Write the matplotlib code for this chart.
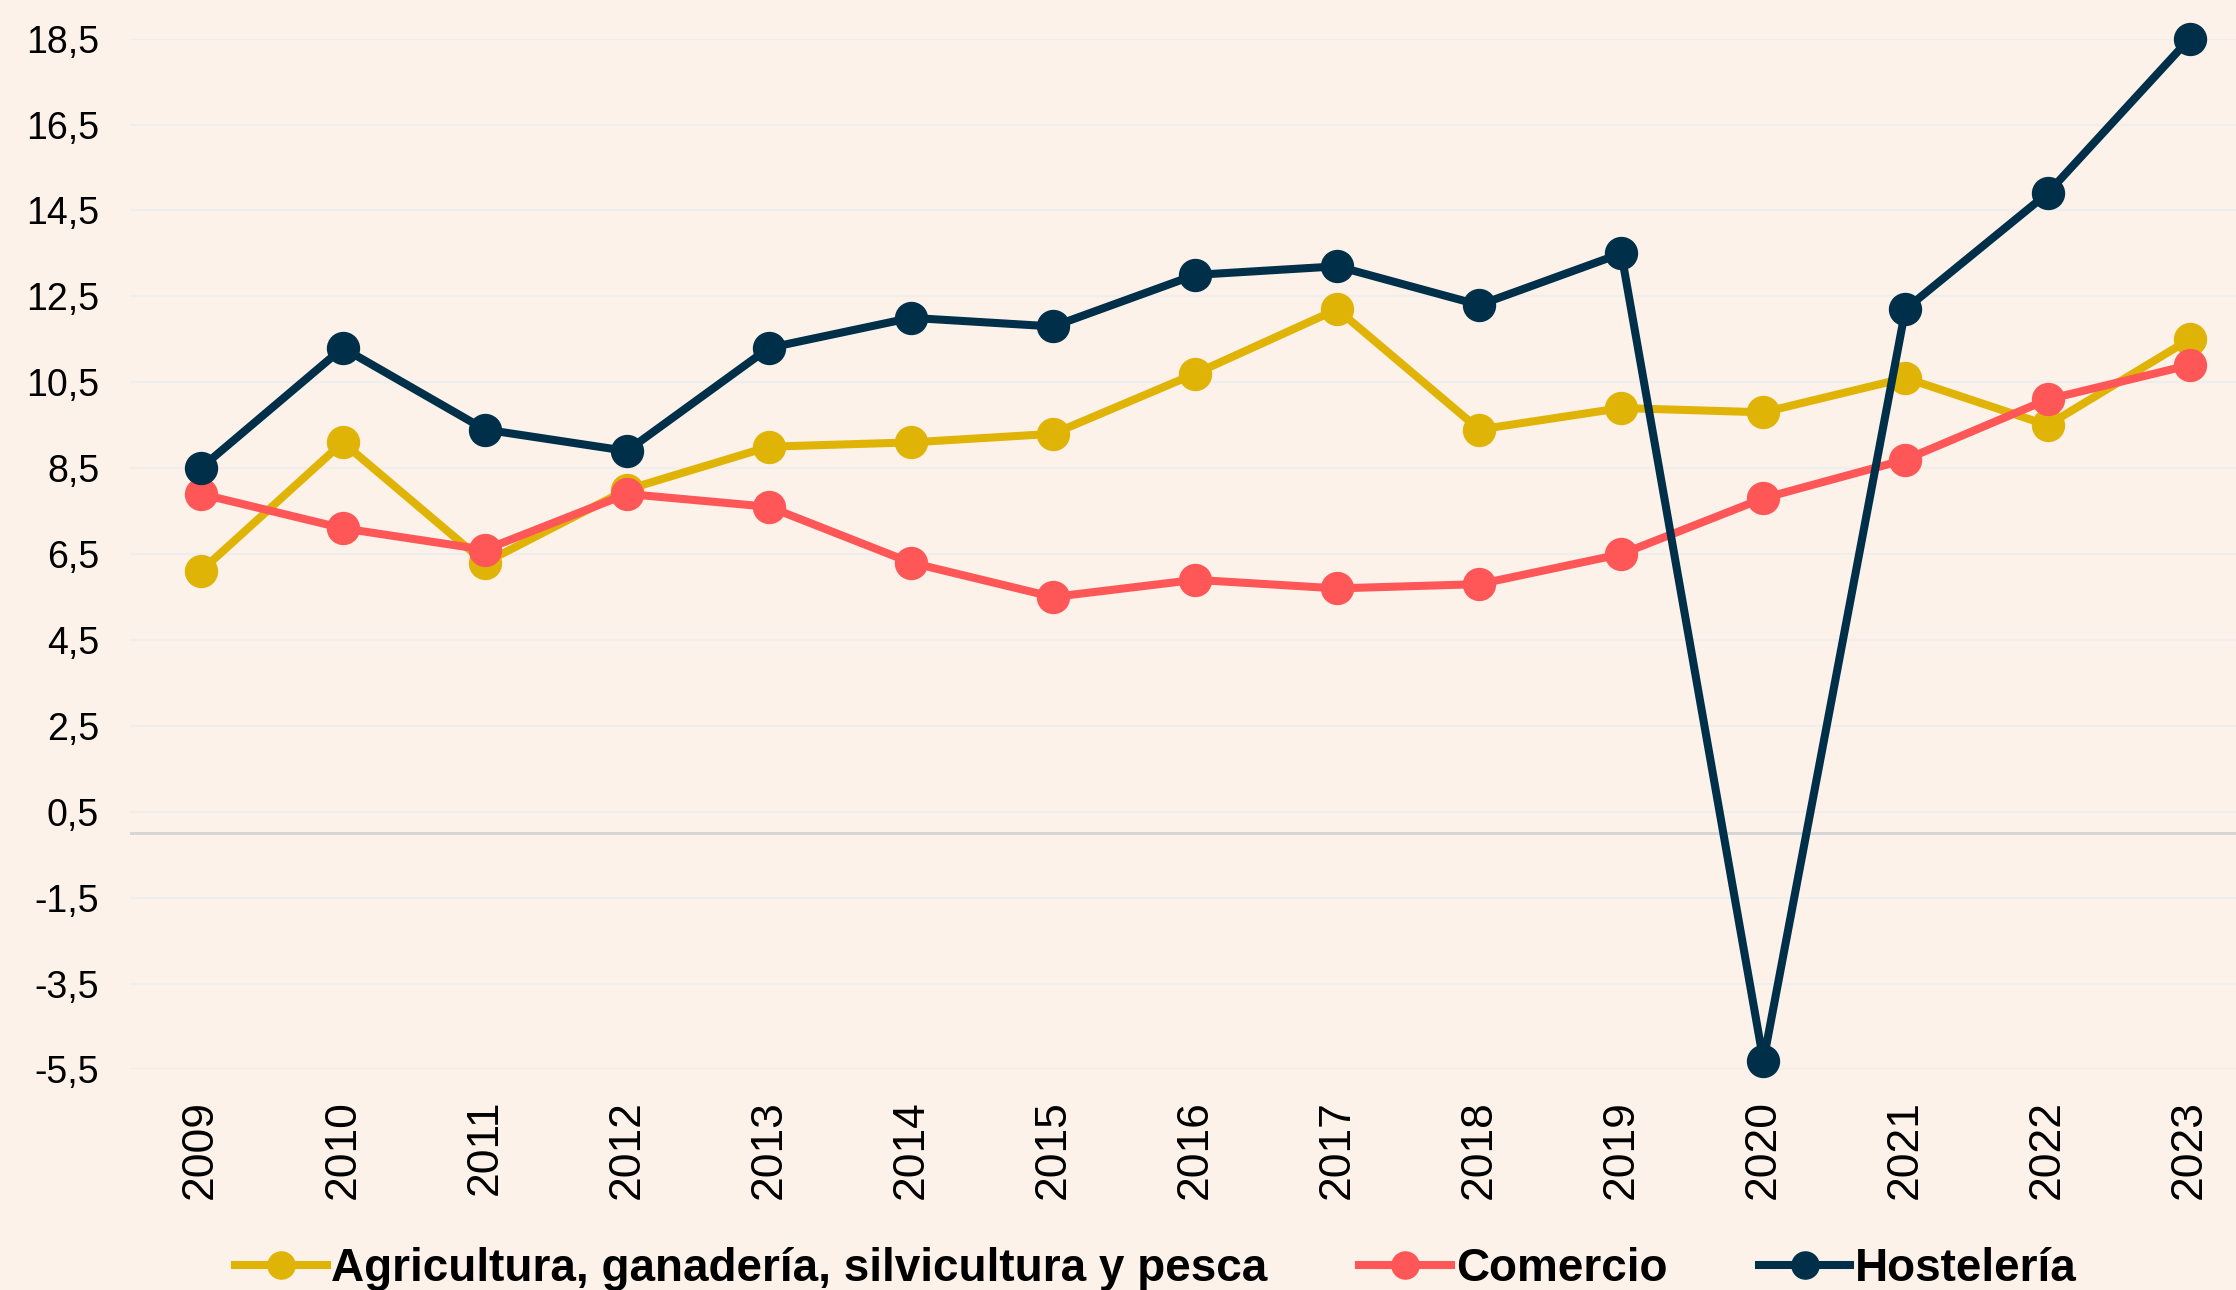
import numpy as np
import matplotlib
matplotlib.use("Agg")
import matplotlib.pyplot as plt

plt.rcParams['font.family'] = ['Liberation Sans', 'DejaVu Sans']

years = [str(y) for y in range(2009, 2024)]
agricultura = [6.1, 9.1, 6.3, 8.0, 9.0, 9.1, 9.3, 10.7, 12.2, 9.4, 9.9, 9.8, 10.6, 9.5, 11.5]
comercio = [7.9, 7.1, 6.6, 7.9, 7.6, 6.3, 5.5, 5.9, 5.7, 5.8, 6.5, 7.8, 8.7, 10.1, 10.9]
hosteleria = [8.5, 11.3, 9.4, 8.9, 11.3, 12.0, 11.8, 13.0, 13.2, 12.3, 13.5, -5.3, 12.2, 14.9, 18.5]
yticks = [-5.5, -3.5, -1.5, 0.5, 2.5, 4.5, 6.5, 8.5, 10.5, 12.5, 14.5, 16.5, 18.5]

bg = '#FCF2EA'
fig = plt.figure(figsize=(22.36, 12.9), dpi=100, facecolor=bg)
ax = fig.add_axes([0.058, 0.171, 0.953, 0.799], facecolor=bg)

x = np.arange(len(years))
series = [
    ("Agricultura, ganadería, silvicultura y pesca", agricultura, '#E0B406'),
    ("Comercio", comercio, '#FF5757'),
    ("Hostelería", hosteleria, '#003049'),
]
for name, vals, col in series:
    ax.plot(x, vals, color=col, lw=5.8, marker='o', ms=23, label=name,
            solid_joinstyle='round', zorder=3, clip_on=False)

ax.set_xlim(-0.5, len(years) - 0.5)
ax.set_ylim(-5.5, 18.5)
ax.set_yticks(yticks)
ax.set_yticklabels([f"{t:.1f}".replace('.', ',') for t in yticks])
ax.set_xticks(x)
ax.set_xticklabels(years, rotation=90)
ax.tick_params(axis='y', length=0, pad=22, labelsize=27)
ax.tick_params(axis='x', length=0, pad=22, labelsize=32)
ax.grid(axis='y', color='#EFEEEA', lw=1.5, zorder=0)
ax.axhline(0, color='#D6D6D6', lw=2.2, zorder=1)
for s in ax.spines.values():
    s.set_visible(False)

fig.legend(loc='center', bbox_to_anchor=(0.517, 0.016), ncol=3, frameon=False,
           prop={'weight': 'bold', 'size': 33}, handlelength=2.0,
           handletextpad=0.1, columnspacing=2.0, markerscale=0.85)

fig.savefig('out.png', dpi=100, facecolor=bg)
